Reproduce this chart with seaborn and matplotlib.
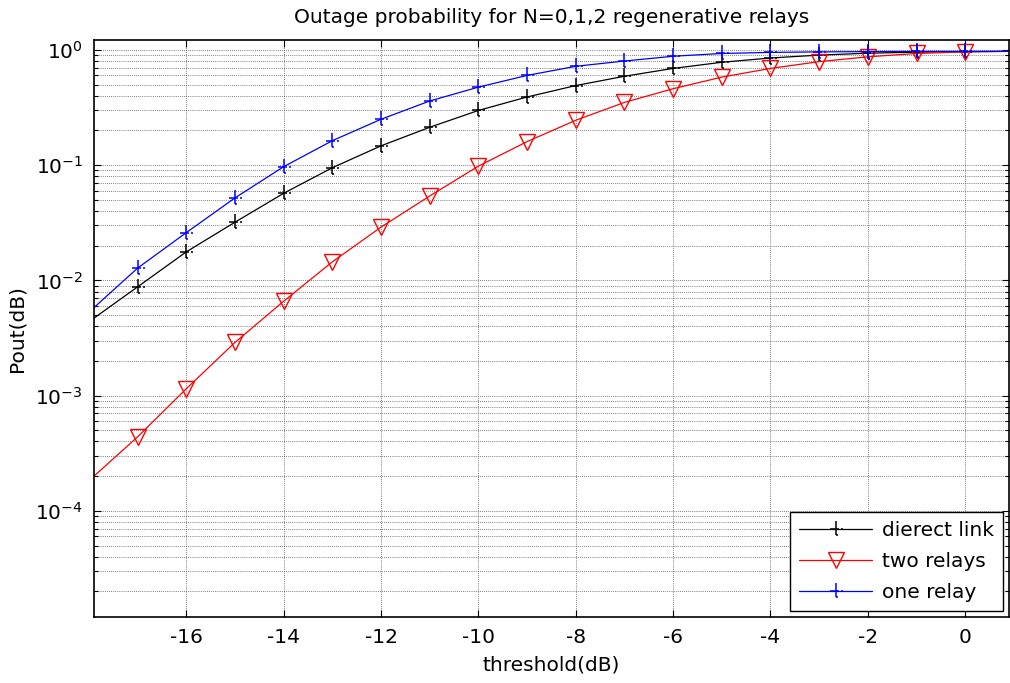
import numpy as np
import pandas as pd
import matplotlib
matplotlib.use("Agg")
import matplotlib.pyplot as plt
from matplotlib.path import Path
from matplotlib.ticker import LogLocator, FixedLocator, NullFormatter, FuncFormatter
import seaborn as sns

# ---- data ----
threshold = [-17.9, -17, -16, -15, -14, -13, -12, -11, -10, -9, -8, -7, -6, -5, -4, -3, -2, -1, 0, 0.9]
direct_link = [0.0047, 0.0088, 0.0177, 0.032, 0.057, 0.095, 0.147, 0.213, 0.298, 0.39, 0.49, 0.59,
               0.69, 0.78, 0.85, 0.90, 0.935, 0.955, 0.965, 0.97]
two_relays = [2.0e-4, 4.4e-4, 1.15e-3, 2.9e-3, 6.6e-3, 0.0145, 0.029, 0.054, 0.098, 0.16, 0.245, 0.35,
              0.46, 0.58, 0.69, 0.79, 0.87, 0.93, 0.96, 0.97]
one_relay = [0.0058, 0.0128, 0.026, 0.052, 0.097, 0.163, 0.25, 0.36, 0.475, 0.60, 0.72, 0.80,
             0.88, 0.93, 0.95, 0.96, 0.965, 0.97, 0.97, 0.97]
series_names = ["dierect link", "two relays", "one relay"]
x_ticks = [-16, -14, -12, -10, -8, -6, -4, -2, 0]

sns.set_theme(style="white")
plt.rcParams['font.family'] = ['DejaVu Sans']
plt.rcParams['mathtext.fontset'] = 'dejavusans'
plt.rcParams['text.color'] = 'black'
plt.rcParams['axes.labelcolor'] = 'black'
plt.rcParams['xtick.color'] = 'black'
plt.rcParams['ytick.color'] = 'black'

fig = plt.figure(figsize=(10.10, 6.83), dpi=100)
ax = fig.add_axes([0.093, 0.0966, 0.906, 0.845])

# custom "t-" like marker used by the reference for plus-type markers
verts = [(0, 1), (0, -0.75), (0, -0.75), (0.25, -0.75),
         (-0.75, 0.05), (0.35, 0.05), (0.6, -0.05), (0.95, -0.05)]
codes = [Path.MOVETO, Path.LINETO, Path.MOVETO, Path.LINETO,
         Path.MOVETO, Path.LINETO, Path.MOVETO, Path.LINETO]
tmark = Path(verts, codes)

df = pd.DataFrame({"x": threshold, "y": direct_link})
sns.lineplot(data=df, x="x", y="y", ax=ax, color="black", lw=0.9, marker=tmark,
             markersize=11, markeredgewidth=1.1, markerfacecolor="none", markeredgecolor="black",
             markevery=slice(1, -1), label=series_names[0], sort=False)
df = pd.DataFrame({"x": threshold, "y": two_relays})
sns.lineplot(data=df, x="x", y="y", ax=ax, color="red", lw=0.9, marker="v",
             markersize=12, markeredgewidth=1.0, markerfacecolor="none", markeredgecolor="red",
             markevery=slice(1, -1), label=series_names[1], sort=False)
df = pd.DataFrame({"x": threshold, "y": one_relay})
sns.lineplot(data=df, x="x", y="y", ax=ax, color="blue", lw=0.9, marker=tmark,
             markersize=11, markeredgewidth=1.1, markerfacecolor="none", markeredgecolor="blue",
             markevery=slice(1, -1), label=series_names[2], sort=False)

ax.set_yscale("log")
ax.set_xlim(-17.9, 0.9)
ax.set_ylim(1.2e-5, 1.22)
ax.xaxis.set_major_locator(FixedLocator(x_ticks))
ax.set_xticklabels([str(t) for t in x_ticks])
ax.yaxis.set_major_locator(LogLocator(base=10, numticks=10))
ax.yaxis.set_major_formatter(FuncFormatter(lambda v, p: r"$\mathregular{10^{%d}}$" % round(np.log10(v))))
ax.yaxis.set_minor_locator(LogLocator(base=10, subs=np.arange(2, 10), numticks=20))
ax.yaxis.set_minor_formatter(NullFormatter())

ax.grid(True, which="major", axis="both", color="#555555", linestyle=(0, (1, 1.5)), linewidth=0.6)
ax.grid(True, which="minor", axis="y", color="#555555", linestyle=(0, (1, 1.5)), linewidth=0.6)

ax.tick_params(axis="both", which="both", direction="in", top=True, right=True,
               bottom=True, left=True, color="black", labelcolor="black", labelsize=14.5, pad=8)
ax.tick_params(which="major", length=5, width=0.8)
ax.tick_params(which="minor", length=3, width=0.8)
for s in ax.spines.values():
    s.set_color("black")
    s.set_linewidth(1.2)

ax.set_title("Outage probability for N=0,1,2 regenerative relays", fontsize=14.5, pad=12, color="black")
ax.set_xlabel("threshold(dB)", fontsize=14.5, labelpad=6, color="black")
ax.set_ylabel("Pout(dB)", fontsize=14.5, labelpad=6, color="black")

leg = ax.legend(loc="lower right", fontsize=14.5, frameon=True, fancybox=False,
                edgecolor="black", framealpha=1, borderaxespad=0.3,
                handlelength=3.6, handletextpad=0.5, labelspacing=0.6, borderpad=0.45)
leg.get_frame().set_linewidth(1.0)
for t in leg.get_texts():
    t.set_color("black")

fig.savefig("out.png", dpi=100)
